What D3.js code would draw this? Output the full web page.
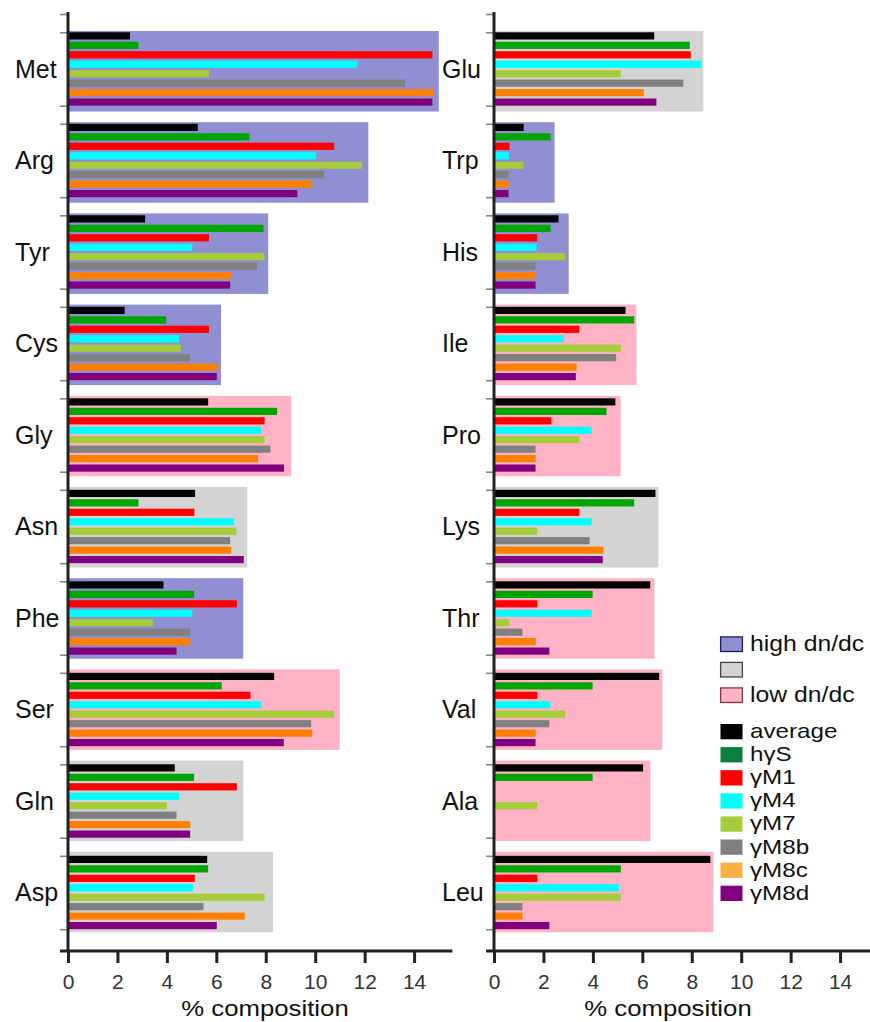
<!DOCTYPE html>
<html>
<head>
<meta charset="utf-8">
<script src="https://cdn.jsdelivr.net/npm/d3@7"></script>
<style>
  html, body { margin: 0; padding: 0; background: #fff; }
  svg { display: block; font-family: "Liberation Sans", Arial, sans-serif; }
</style>
</head>
<body>
<svg id="chart" width="870" height="1022"></svg>
<script>
// Amino acids, split across the two panels
const leftAcids  = ["Met", "Arg", "Tyr", "Cys", "Gly", "Asn", "Phe", "Ser", "Gln", "Asp"];
const rightAcids = ["Glu", "Trp", "His", "Ile", "Pro", "Lys", "Thr", "Val", "Ala", "Leu"];
const aminoAcids = leftAcids.concat(rightAcids);

// Series names (legend order, also bar order inside each group)
const seriesNames = ["average", "hγS", "γM1", "γM4", "γM7", "γM8b", "γM8c", "γM8d"];

// % composition per series, in aminoAcids order
const average = [2.51, 5.25, 3.12, 2.29, 5.67, 5.14, 3.86, 8.34, 4.32, 5.63, 6.48, 1.20, 2.61, 5.32, 4.91, 6.53, 6.32, 6.68, 6.03, 8.75];
const hyS     = [2.85, 7.34, 7.91, 3.97, 8.46, 2.85, 5.10, 6.22, 5.10, 5.67, 7.92, 2.29, 2.29, 5.67, 4.55, 5.67, 3.99, 3.99, 3.99, 5.13];
const yM1     = [14.74, 10.77, 5.70, 5.70, 7.95, 5.11, 6.83, 7.38, 6.83, 5.13, 7.96, 0.63, 1.75, 3.45, 2.32, 3.45, 1.75, 1.75, 0, 1.75];
const yM4     = [11.71, 10.04, 5.03, 4.49, 7.81, 6.72, 5.03, 7.81, 4.49, 5.05, 8.39, 0.60, 1.72, 2.83, 3.95, 3.95, 3.95, 2.28, 0, 5.05];
const yM7     = [5.70, 11.90, 7.95, 4.56, 7.95, 6.81, 3.43, 10.77, 4.00, 7.95, 5.13, 1.19, 2.88, 5.13, 3.45, 1.75, 0.62, 2.88, 1.75, 5.13];
const yM8b    = [13.64, 10.36, 7.65, 4.94, 8.19, 6.56, 4.94, 9.84, 4.39, 5.48, 7.66, 0.59, 1.68, 4.94, 1.68, 3.87, 1.15, 2.24, 0, 1.15];
const yM8c    = [14.80, 9.88, 6.61, 6.06, 7.69, 6.60, 4.95, 9.88, 4.95, 7.15, 6.06, 0.59, 1.69, 3.34, 1.69, 4.43, 1.69, 1.69, 0, 1.15];
const yM8d    = [14.74, 9.28, 6.56, 6.02, 8.74, 7.11, 4.39, 8.73, 4.94, 6.02, 6.57, 0.59, 1.68, 3.31, 1.68, 4.40, 2.24, 1.68, 0, 2.24];
const seriesValues = [average, hyS, yM1, yM4, yM7, yM8b, yM8c, yM8d];

// Shaded background extent and dn/dc class per amino acid
const backgroundExtent = [15.0, 12.15, 8.10, 6.19, 9.03, 7.25, 7.09, 10.99, 7.09, 8.30, 8.47, 2.45, 3.02, 5.76, 5.12, 6.65, 6.49, 6.81, 6.33, 8.87];
const dndcClass = ["high", "high", "high", "high", "low", "mid", "high", "low", "mid", "mid",
                   "mid", "high", "high", "low", "low", "mid", "low", "low", "low", "low"];

// Axis ticks
const xTicks = [0, 2, 4, 6, 8, 10, 12, 14];
const xMax = 15.55;

// Colours
const barColors    = ["#000000", "#00a600", "#ff0000", "#00ffff", "#a6cc3a", "#808080", "#ff8000", "#800080"];
const legendColors = ["#000000", "#0b7f3f", "#ff0000", "#00ffff", "#a6cc3a", "#808080", "#f9b042", "#800080"];
const classFill   = { high: "#8f8fd2", mid: "#d3d3d3", low: "#ffb3c4" };
const classStroke = { high: "#1c1c60", mid: "#444444", low: "#7a3a48" };
const classLabels = [["high", "high dn/dc"], ["mid", ""], ["low", "low dn/dc"]];

const svg = d3.select("#chart");
const valueOf = {};
aminoAcids.forEach((a, i) => { valueOf[a] = i; });

const panels = [
  { acids: leftAcids,  x0: 68,  labelX: 15,  titleX: 265, axisEnd: null },
  { acids: rightAcids, x0: 494, labelX: 442, titleX: 668, axisEnd: 872 }
];

panels.forEach(p => {
  const g = svg.append("g");
  const x = d3.scaleLinear().domain([0, xMax]).range([p.x0, p.x0 + xMax * 24.72]);

  // group positions for the bars and for the shaded boxes
  const yBars = d3.scaleBand().domain(p.acids)
    .range([32.3, 32.3 + 9 * 91.5 + 73.4]).paddingInner(0.198);
  const yBox = d3.scaleBand().domain(p.acids)
    .range([31, 31 + 9 * 91.2 + 80.5]).paddingInner(0.1173);
  const yInner = d3.scaleBand().domain(seriesNames)
    .range([0, yBars.bandwidth()]).paddingInner(0.24);

  // shaded dn/dc boxes
  g.selectAll("rect.bg").data(p.acids).join("rect")
    .attr("class", "bg")
    .attr("x", x(0))
    .attr("y", a => yBox(a))
    .attr("width", a => x(backgroundExtent[valueOf[a]]) - x(0))
    .attr("height", yBox.bandwidth())
    .attr("fill", a => classFill[dndcClass[valueOf[a]]]);

  // bars
  p.acids.forEach(a => {
    const i = valueOf[a];
    const rows = seriesNames.map((s, k) => ({ s, k, v: seriesValues[k][i] })).filter(d => d.v > 0);
    g.append("g").selectAll("rect").data(rows).join("rect")
      .attr("x", x(0))
      .attr("y", d => yBars(a) + yInner(d.s))
      .attr("width", d => x(d.v) - x(0))
      .attr("height", yInner.bandwidth())
      .attr("fill", d => barColors[d.k]);
  });

  // y axis: ticks at the top and bottom of each bar group
  const yTickVals = [14];
  p.acids.forEach(a => { yTickVals.push(yBars(a), yBars(a) + yBars.bandwidth()); });
  const yAxis = d3.axisLeft(d3.scaleIdentity().domain([0, 1022]))
    .tickValues(yTickVals).tickSize(8).tickFormat("");
  const ya = g.append("g").attr("transform", `translate(${p.x0},0)`).call(yAxis);
  ya.select(".domain").remove();
  ya.selectAll(".tick line").attr("stroke", "#888").attr("stroke-width", 1.6);
  g.append("line")
    .attr("x1", p.x0).attr("x2", p.x0)
    .attr("y1", 12).attr("y2", 951)
    .attr("stroke", "#222").attr("stroke-width", 3);

  // category labels
  g.selectAll("text.cat").data(p.acids).join("text")
    .attr("class", "cat")
    .attr("x", p.labelX)
    .attr("y", a => yBars(a) + yBars.bandwidth() / 2 + 8.8)
    .attr("font-size", 25)
    .attr("fill", "#111")
    .text(a => a);

  // x axis
  const xAxis = d3.axisBottom(x).tickValues(xTicks).tickSize(12).tickSizeOuter(0).tickPadding(11);
  const xa = g.append("g").attr("transform", "translate(0,951)").call(xAxis);
  xa.select(".domain").remove();
  xa.selectAll(".tick line").attr("stroke", "#222").attr("stroke-width", 3);
  xa.selectAll(".tick text")
    .attr("font-size", 21).attr("fill", "#333")
    .attr("font-family", "\"Liberation Sans\", Arial, sans-serif");
  g.append("line")
    .attr("x1", p.x0 - 8).attr("x2", p.axisEnd || x(xMax))
    .attr("y1", 951).attr("y2", 951)
    .attr("stroke", "#222").attr("stroke-width", 3);

  // axis title, widened slightly to keep it clear of the tick labels
  g.append("text")
    .attr("transform", `translate(${p.titleX},1015.5) scale(1.12,1)`)
    .attr("text-anchor", "middle")
    .attr("font-size", 23).attr("fill", "#111")
    .text("% composition");
});

// legend: dn/dc classes
const legend = svg.append("g").attr("transform", "translate(720,0)");
const classTops = [636.3, 661.8, 687.3];
classLabels.forEach(([cls, label], i) => {
  legend.append("rect")
    .attr("x", 0.6).attr("y", classTops[i] + 0.6)
    .attr("width", 21.8).attr("height", 14.6)
    .attr("fill", classFill[cls])
    .attr("stroke", classStroke[cls]).attr("stroke-width", 1.3);
  if (label) {
    legend.append("text")
      .attr("transform", `translate(30,${classTops[i] + 15}) scale(1.1,1)`)
      .attr("font-size", 22.5).attr("fill", "#111")
      .text(label);
  }
});

// legend: series (tight rows, so the glyphs are widened rather than enlarged)
seriesNames.forEach((s, k) => {
  const top = 724 + k * 23.1;
  legend.append("rect")
    .attr("x", 0.5).attr("y", top)
    .attr("width", 22).attr("height", 15.3)
    .attr("fill", legendColors[k]);
  legend.append("text")
    .attr("transform", `translate(30,${top + 14}) scale(1.18,1)`)
    .attr("font-size", 20.5).attr("fill", "#111")
    .text(s);
});
</script>
</body>
</html>
